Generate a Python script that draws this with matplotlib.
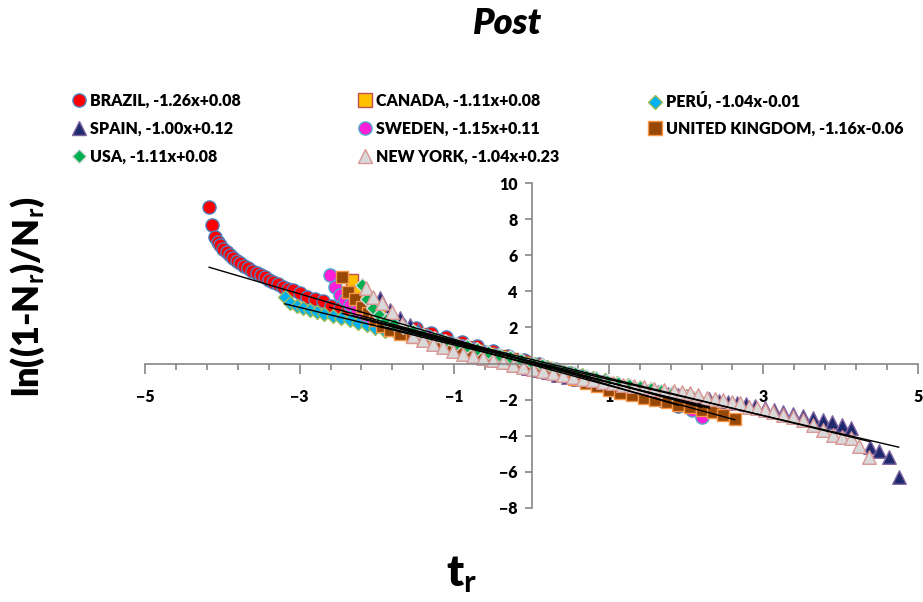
import numpy as np
import matplotlib
matplotlib.use("Agg")
import matplotlib.pyplot as plt
from matplotlib.lines import Line2D
from matplotlib.ticker import MultipleLocator

plt.rcParams['font.family'] = ['Lato', 'DejaVu Sans']
plt.rcParams['font.weight'] = 'bold'
plt.rcParams['mathtext.fontset'] = 'custom'
plt.rcParams['mathtext.rm'] = 'Lato:bold'
plt.rcParams['mathtext.it'] = 'Lato:bold'
plt.rcParams['mathtext.bf'] = 'Lato:bold'

# ---- data ----
brazil_x = [-4.17, -4.13, -4.09, -4.06, -4.03, -3.99, -3.94, -3.90, -3.86, -3.81,
            -3.77, -3.72, -3.67, -3.61, -3.55, -3.50, -3.45, -3.39, -3.34, -3.28,
            -3.21, -3.15, -3.09, -3.00, -2.90, -2.80, -2.70, -2.59, -2.48, -2.37,
            -2.26, -2.17, -2.09, -1.90, -1.70, -1.50, -1.30, -1.10, -0.90, -0.70,
            -0.50, -0.30, -0.10, 0.10, 0.30, 0.50, 0.70, 0.90, 1.10, 1.30,
            1.50, 1.70, 1.90]
brazil_y = [8.67, 7.67, 7.00, 6.75, 6.56, 6.35, 6.17, 6.00, 5.84, 5.70,
            5.56, 5.42, 5.29, 5.15, 5.01, 4.90, 4.79, 4.65, 4.51, 4.38,
            4.24, 4.15, 4.07, 3.90, 3.70, 3.55, 3.45, 3.20, 3.05, 2.95,
            2.85, 2.75, 2.65, 2.45, 2.20, 1.95, 1.70, 1.45, 1.20, 0.95,
            0.68, 0.42, 0.18, -0.05, -0.30, -0.55, -0.80, -1.05, -1.30, -1.55,
            -1.80, -2.05, -2.35]

canada_x = [-2.32, -2.23, -2.14, -2.05, -1.96, -1.85, -1.72, -1.58, -1.44, -1.30,
            -1.15, -1.00, -0.85, -0.70, -0.55, -0.40, -0.25, -0.10, 0.05, 0.20,
            0.35, 0.50, 0.65, 0.80, 0.95, 1.10, 1.25, 1.40, 1.55, 1.70,
            1.85, 2.00, 2.15, 2.30]
canada_y = [4.62, 3.95, 3.45, 3.00, 2.62, 2.30, 2.05, 1.82, 1.62, 1.44,
            1.27, 1.10, 0.93, 0.77, 0.60, 0.44, 0.27, 0.10, -0.06, -0.23,
            -0.40, -0.57, -0.74, -0.90, -1.06, -1.22, -1.38, -1.54, -1.70, -1.86,
            -2.00, -2.15, -2.30, -2.45]

peru_x = [-3.19, -3.12, -3.04, -2.96, -2.87, -2.78, -2.68, -2.57, -2.46, -2.35,
          -2.24, -2.13, -2.02, -1.90, -1.75, -1.60, -1.45, -1.30, -1.15, -1.00,
          -0.85, -0.70, -0.55, -0.40, -0.25, -0.10, 0.05, 0.20, 0.35, 0.50,
          0.65, 0.80, 0.95, 1.10, 1.25, 1.40, 1.55, 1.70, 1.85, 2.00,
          2.15, 2.30]
peru_y = [3.68, 3.35, 3.20, 3.08, 2.97, 2.86, 2.75, 2.64, 2.52, 2.40,
          2.27, 2.12, 1.98, 1.82, 1.70, 1.58, 1.45, 1.30, 1.17, 1.03,
          0.90, 0.73, 0.57, 0.42, 0.27, 0.10, -0.05, -0.20, -0.35, -0.50,
          -0.64, -0.78, -0.92, -1.05, -1.18, -1.30, -1.43, -1.55, -1.68, -1.80,
          -1.95, -2.10]

spain_x = [-1.96, -1.83, -1.70, -1.57, -1.47, -1.35, -1.22, -1.09, -0.96, -0.83,
           -0.70, -0.57, -0.44, -0.31, -0.18, -0.05, 0.08, 0.21, 0.34, 0.47,
           0.60, 0.73, 0.86, 0.99, 1.12, 1.25, 1.38, 1.51, 1.64, 1.77,
           1.90, 2.03, 2.16, 2.29, 2.42, 2.54, 2.66, 2.78, 2.89, 3.02,
           3.14, 3.25, 3.38, 3.51, 3.64, 3.77, 3.89, 4.02, 4.13, 4.38,
           4.50, 4.63, 4.75]
spain_y = [3.63, 2.96, 2.52, 2.13, 1.85, 1.55, 1.30, 1.08, 0.88, 0.70,
           0.52, 0.36, 0.20, 0.06, -0.08, -0.22, -0.36, -0.49, -0.61, -0.72,
           -0.83, -0.94, -1.04, -1.14, -1.23, -1.32, -1.41, -1.50, -1.58, -1.66,
           -1.74, -1.82, -1.90, -1.98, -2.05, -2.13, -2.19, -2.24, -2.35, -2.46,
           -2.57, -2.69, -2.80, -2.91, -3.02, -3.13, -3.24, -3.40, -3.57, -4.62,
           -4.85, -5.17, -6.28]

sweden_x = [-2.61, -2.54, -2.48, -2.41, -2.35, -2.26, -2.15, -2.06, -1.95, -1.80,
            -1.65, -1.50, -1.35, -1.20, -1.05, -0.90, -0.75, -0.60, -0.45, -0.30,
            -0.15, 0.00, 0.15, 0.30, 0.45, 0.60, 0.75, 0.90, 1.05, 1.20,
            1.35, 1.50, 1.65, 1.80, 1.95, 2.08, 2.20]
sweden_y = [4.90, 4.24, 3.79, 3.51, 3.24, 2.96, 2.69, 2.45, 2.25, 2.05,
            1.85, 1.68, 1.50, 1.33, 1.16, 0.98, 0.80, 0.63, 0.46, 0.30,
            0.13, -0.03, -0.20, -0.37, -0.53, -0.70, -0.87, -1.04, -1.21, -1.38,
            -1.55, -1.72, -1.88, -2.05, -2.25, -2.55, -2.96]

uk_x = [-2.45, -2.37, -2.28, -2.19, -2.11, -2.03, -1.93, -1.83, -1.70, -1.55,
        -1.40, -1.25, -1.10, -0.95, -0.80, -0.65, -0.50, -0.35, -0.20, -0.05,
        0.10, 0.25, 0.40, 0.55, 0.70, 0.85, 1.00, 1.15, 1.30, 1.45,
        1.60, 1.75, 1.90, 2.05, 2.20, 2.35, 2.48, 2.63]
uk_y = [4.79, 3.96, 3.57, 3.13, 2.80, 2.41, 2.10, 1.85, 1.65, 1.48,
        1.32, 1.17, 1.02, 0.86, 0.70, 0.55, 0.38, 0.22, 0.05, -0.12,
        -0.30, -0.48, -0.66, -0.85, -1.05, -1.25, -1.45, -1.62, -1.76, -1.90,
        -2.03, -2.15, -2.28, -2.42, -2.56, -2.69, -2.85, -3.07]

usa_x = [-2.19, -2.13, -2.05, -1.97, -1.88, -1.78, -1.66, -1.53, -1.40, -1.26,
         -1.12, -0.98, -0.84, -0.70, -0.56, -0.42, -0.28, -0.14, 0.00, 0.14,
         0.28, 0.42, 0.56, 0.70, 0.84, 0.98, 1.12, 1.26, 1.40, 1.54,
         1.68, 1.82, 1.96, 2.10]
usa_y = [4.35, 3.60, 3.07, 2.70, 2.42, 2.20, 2.00, 1.80, 1.60, 1.42,
         1.25, 1.10, 0.95, 0.80, 0.65, 0.50, 0.35, 0.20, 0.05, -0.10,
         -0.25, -0.40, -0.55, -0.68, -0.82, -0.95, -1.08, -1.20, -1.30, -1.40,
         -1.50, -1.62, -1.75, -1.90]

ny_x = [-2.14, -2.05, -1.93, -1.81, -1.68, -1.53, -1.40, -1.27, -1.14, -1.01,
        -0.89, -0.76, -0.63, -0.50, -0.37, -0.24, -0.11, 0.02, 0.15, 0.28,
        0.41, 0.54, 0.67, 0.80, 0.93, 1.06, 1.19, 1.32, 1.45, 1.58,
        1.71, 1.84, 1.95, 2.05, 2.16, 2.27, 2.37, 2.48, 2.59, 2.70,
        2.81, 2.92, 3.02, 3.13, 3.25, 3.38, 3.51, 3.64, 3.77, 3.90,
        4.02, 4.13, 4.24, 4.37]
ny_y = [4.18, 3.68, 3.35, 2.85, 2.20, 1.55, 1.30, 1.10, 0.90, 0.70,
        0.55, 0.43, 0.30, 0.18, 0.06, -0.06, -0.18, -0.30, -0.42, -0.53,
        -0.63, -0.73, -0.83, -0.92, -1.00, -1.08, -1.16, -1.24, -1.32, -1.40,
        -1.47, -1.53, -1.58, -1.63, -1.74, -1.91, -1.97, -2.02, -2.13, -2.19,
        -2.41, -2.46, -2.57, -2.69, -2.85, -2.96, -3.13, -3.40, -3.68, -3.96,
        -4.07, -4.12, -4.57, -5.18]

# trendline coefficients from the legend labels
names = ['BRAZIL', 'CANADA', 'PERÚ', 'SPAIN', 'SWEDEN', 'UNITED KINGDOM', 'USA', 'NEW YORK']
slopes = [-1.26, -1.11, -1.04, -1.00, -1.15, -1.16, -1.11, -1.04]
intercepts = [0.08, 0.08, -0.01, 0.12, 0.11, -0.06, 0.08, 0.23]

xs = [brazil_x, canada_x, peru_x, spain_x, sweden_x, uk_x, usa_x, ny_x]
ys = [brazil_y, canada_y, peru_y, spain_y, sweden_y, uk_y, usa_y, ny_y]

# marker, face colour, edge colour, size
styles = [('o', '#FF0000', '#4F81BD', 90),
          ('s', '#FFC000', '#C0504D', 85),
          ('D', '#00B0F0', '#9BBB59', 50),
          ('^', '#1F2A6E', '#8064A2', 95),
          ('o', '#FF1FD8', '#4BACC6', 90),
          ('s', '#974706', '#F79646', 85),
          ('D', '#00B050', '#D9D9D9', 50),
          ('^', '#D9D9D9', '#D99694', 95)]

fig = plt.figure(figsize=(9.23, 6.02), dpi=100)
ax = fig.add_axes([145 / 923, 94 / 602, 773 / 923, 325 / 602])

handles = []
for name, x, y, st in zip(names, xs, ys, styles):
    m, fc, ec, s = st
    ax.scatter(x, y, marker=m, s=s, facecolor=fc, edgecolor=ec, linewidth=1.0, zorder=2)
    handles.append(Line2D([], [], linestyle='none', marker=m, markersize=9.5 if m != 'D' else 7,
                          markerfacecolor=fc, markeredgecolor=ec, markeredgewidth=1.0))

# trendlines on top of the markers
for x, a, b in zip(xs, slopes, intercepts):
    xl = np.array([min(x), max(x)])
    ax.plot(xl, a * xl + b, color='black', linewidth=1.0, zorder=3)

ax.set_xlim(-5, 5)
ax.set_ylim(-8, 10)
for side in ['top', 'right']:
    ax.spines[side].set_visible(False)
ax.spines['left'].set_position(('data', 0))
ax.spines['bottom'].set_position(('data', 0))
for side in ['left', 'bottom']:
    ax.spines[side].set_color('#868686')
    ax.spines[side].set_linewidth(1.2)

ax.set_xticks([-5, -3, -1, 1, 3, 5])
ax.xaxis.set_minor_locator(MultipleLocator(0.4, offset=0.2))
ax.set_yticks([-8, -6, -4, -2, 0, 2, 4, 6, 8, 10])
ax.tick_params(axis='x', which='major', direction='out', length=7, width=1.2,
               color='#868686', pad=11, labelsize=11.5)
ax.tick_params(axis='x', which='minor', direction='out', length=4, width=1.2, color='#868686')
ax.tick_params(axis='y', which='major', direction='out', length=5, width=1.2,
               color='#868686', pad=5, labelsize=11.5)
for lab in ax.get_xticklabels() + ax.get_yticklabels():
    lab.set_fontweight('heavy')

# legend: one entry per slot, laid out row by row as in the original
labels = ['%s, %.2fx%+.2f' % (n, a, b) for n, a, b in zip(names, slopes, intercepts)]
slot_col = [0, 1, 2, 0, 1, 2, 0, 1]
slot_row = [0, 0, 0, 1, 1, 1, 2, 2]
col_left = [73, 359, 649]
row_y = [101, 129, 157]
for i, (c, r) in enumerate(zip(slot_col, slot_row)):
    fig.legend([handles[i]], [labels[i]], loc='center left',
               bbox_to_anchor=(col_left[c] / 923, 1 - row_y[r] / 602),
               frameon=False, handletextpad=0.25, handlelength=0.8,
               borderaxespad=0, borderpad=0,
               prop={'weight': 'heavy', 'size': 11.5})

fig.text(508 / 923, 1 - 23 / 602, 'Post', fontsize=26, fontweight='heavy',
         fontstyle='italic', ha='center', va='center')
fig.text(28 / 923, 1 - 297 / 602, r'ln((1-N$_\mathrm{r}$)/N$_\mathrm{r}$)', fontsize=26,
         fontweight='heavy', rotation=90, ha='center', va='center')
fig.text(462 / 923, 1 - 575 / 602, r't$_\mathrm{r}$', fontsize=32, fontweight='heavy',
         ha='center', va='center')

plt.savefig('out.png', dpi=100)
